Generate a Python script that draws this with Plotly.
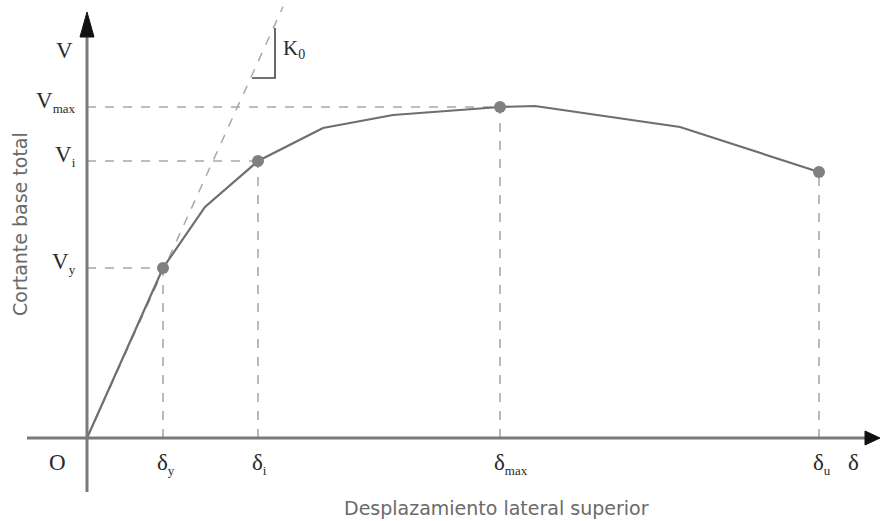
import plotly.graph_objects as go

# Pushover curve (schematic), units arbitrary
disp = [0, 76, 118, 171, 236, 306, 413, 448, 593, 732]
shear = [0, 170, 231, 277, 310, 323, 331, 332, 311, 266]
key_idx = [1, 3, 6, 9]              # y, i, max, u
v_subs = ["y", "i", "max", None]
d_subs = ["y", "i", "max", "u"]
k0_slope = 2.2
k0_end_x = 196

x_range = [-87, 793]
y_range = [-83, 438]

axis_col = "#7a7a7a"
dash_col = "#a8a8a8"
curve_col = "#6e6e6e"
lab_col = "#2a2a2a"
serif = "Liberation Serif"

def sub(base, s, size=13):
    return f'{base}<sub><span style="font-size:{size}px">{s}</span></sub>'

fig = go.Figure()

# K0 dashed initial stiffness line
fig.add_trace(go.Scatter(x=[0, k0_end_x], y=[0, k0_slope * k0_end_x], mode="lines",
                         line=dict(color=dash_col, width=1.5, dash="dash"),
                         hoverinfo="skip", showlegend=False))

shapes = []
for k, idx in enumerate(key_idx):
    xk, yk = disp[idx], shear[idx]
    if v_subs[k] is not None:
        shapes.append(dict(type="line", x0=0, x1=xk, y0=yk, y1=yk,
                           line=dict(color=dash_col, width=1.6, dash="dash"), layer="below"))
    shapes.append(dict(type="line", x0=xk, x1=xk, y0=0, y1=yk,
                       line=dict(color=dash_col, width=1.6, dash="dash"), layer="below"))

# curve
fig.add_trace(go.Scatter(x=disp, y=shear, mode="lines",
                         line=dict(color=curve_col, width=2.2),
                         hoverinfo="skip", showlegend=False))
fig.add_trace(go.Scatter(x=[disp[i] for i in key_idx], y=[shear[i] for i in key_idx],
                         mode="markers", marker=dict(color="#808080", size=12),
                         hoverinfo="skip", showlegend=False))

# axes with arrows
x_axis_start, x_axis_end, x_tip = -60, 778, 793
y_axis_start, y_axis_end, y_tip = -54, 401, 426
shapes.append(dict(type="line", x0=x_axis_start, x1=x_axis_end, y0=0, y1=0,
                   line=dict(color=axis_col, width=3)))
shapes.append(dict(type="line", x0=0, x1=0, y0=y_axis_start, y1=y_axis_end,
                   line=dict(color=axis_col, width=3)))
shapes.append(dict(type="path",
                   path=f"M {x_axis_end} -7 L {x_tip} 0 L {x_axis_end} 7 Z",
                   fillcolor="#111", line=dict(color="#111", width=1)))
shapes.append(dict(type="path",
                   path=f"M -7 {y_axis_end} L 0 {y_tip} L 7 {y_axis_end} Z",
                   fillcolor="#111", line=dict(color="#111", width=1)))
# K0 slope triangle
shapes.append(dict(type="path", path="M 165 360 L 188 360 L 188 410",
                   line=dict(color="#444", width=1.6)))

annotations = []
def lab(text, x, y, xanchor="center", size=23):
    annotations.append(dict(text=text, x=x, y=y, xref="x", yref="y", showarrow=False,
                            xanchor=xanchor, yanchor="middle",
                            font=dict(family=serif, size=size, color=lab_col)))

lab("V", -23, 388)
for k, idx in enumerate(key_idx):
    if v_subs[k] is not None:
        lab(sub("V", v_subs[k]), -9, shear[idx] + 5, xanchor="right")
    lab(sub("δ", d_subs[k]), disp[idx] - 8, -26, xanchor="left")
lab("O", -30, -24)
lab("δ", 766, -24)
annotations.append(dict(text=sub("K", "0", 14), x=194, y=389, xref="x", yref="y",
                        showarrow=False, xanchor="left", yanchor="middle",
                        font=dict(family=serif, size=21, color=lab_col)))

# axis titles
annotations.append(dict(text="Desplazamiento lateral superior", x=409, y=-70,
                        xref="x", yref="y", showarrow=False, xanchor="center", yanchor="middle",
                        font=dict(family="DejaVu Sans", size=19, color="#6a6a6a")))
annotations.append(dict(text="Cortante base total", x=-67, y=214, textangle=-90,
                        xref="x", yref="y", showarrow=False, xanchor="center", yanchor="middle",
                        font=dict(family="DejaVu Sans", size=19, color="#6a6a6a")))

fig.update_layout(width=880, height=521, autosize=False,
                  margin=dict(l=0, r=0, t=0, b=0),
                  paper_bgcolor="white", plot_bgcolor="white",
                  xaxis=dict(range=x_range, visible=False, fixedrange=True),
                  yaxis=dict(range=y_range, visible=False, fixedrange=True),
                  shapes=shapes, annotations=annotations, showlegend=False)

fig.write_html("out.html", config={"displayModeBar": False},
               post_script="document.body.style.margin='0px';")
